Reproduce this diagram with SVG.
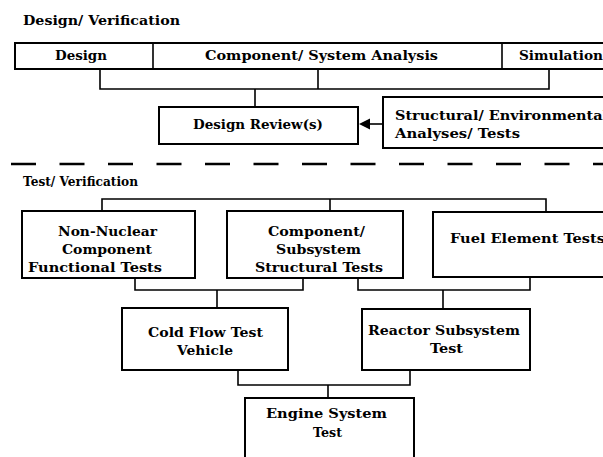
<svg xmlns="http://www.w3.org/2000/svg" width="603" height="457" viewBox="0 0 603 457">
<style>
.box{fill:#fff;stroke:#000;stroke-width:2}
.ln{fill:none;stroke:#000;stroke-width:1.6}
.t{font-family:"DejaVu Serif","Liberation Serif",serif;font-weight:bold;font-size:13px;fill:#000}
.h{font-family:"DejaVu Serif","Liberation Serif",serif;font-weight:bold;font-size:12px;fill:#000}
</style>
<rect width="603" height="457" fill="#fff"/>
<text class="h" x="23" y="25" textLength="157" lengthAdjust="spacingAndGlyphs">Design/ Verification</text>
<text class="h" x="23" y="186" textLength="115" lengthAdjust="spacingAndGlyphs">Test/ Verification</text>
<g id="connectors">
<path class="ln" d="M100,69 V89 H549 V69 M318,69 V89 M255,89 V107"/>
<path class="ln" d="M383,124 H369"/>
<polygon points="359,124 370,118.5 370,129.5" fill="#000"/>
<path d="M11,164 H603" stroke="#000" stroke-width="2.5" stroke-dasharray="25 23.5" fill="none"/>
<path class="ln" d="M102,211 V199 H546 V212 M330,199 V211"/>
<path class="ln" d="M135,278 V290 H303 V278 M217,290 V308"/>
<path class="ln" d="M358,278 V290 H530 V277 M443,290 V309"/>
<path class="ln" d="M238,370 V385 H410 V370 M328,385 V398"/>
</g>
<g id="top-row">
<rect class="box" x="15" y="43" width="600" height="26"/>
<path class="ln" stroke-width="2" d="M153,43 V69 M502,43 V69"/>
</g>
<g id="design"><text class="t" x="55" y="60" textLength="52" lengthAdjust="spacingAndGlyphs">Design</text></g>
<g id="analysis"><text class="t" x="205" y="60" textLength="233" lengthAdjust="spacingAndGlyphs">Component/ System Analysis</text></g>
<g id="simulation"><text class="t" x="519" y="60" textLength="84" lengthAdjust="spacingAndGlyphs">Simulation</text></g>
<g id="design-review">
<rect class="box" x="159" y="107" width="199" height="37"/>
<text class="t" x="193" y="129" textLength="130" lengthAdjust="spacingAndGlyphs">Design Review(s)</text>
</g>
<g id="structural-analyses">
<rect class="box" x="383" y="97" width="230" height="51"/>
<text class="t" x="395" y="120" textLength="213" lengthAdjust="spacingAndGlyphs">Structural/ Environmental</text>
<text class="t" x="395" y="138" textLength="125" lengthAdjust="spacingAndGlyphs">Analyses/ Tests</text>
</g>
<g id="non-nuclear">
<rect class="box" x="22" y="211" width="173" height="67"/>
<text class="t" x="58" y="236" textLength="99" lengthAdjust="spacingAndGlyphs">Non-Nuclear</text>
<text class="t" x="62" y="254" textLength="90" lengthAdjust="spacingAndGlyphs">Component</text>
<text class="t" x="28" y="272" textLength="134" lengthAdjust="spacingAndGlyphs">Functional Tests</text>
</g>
<g id="component-subsystem">
<rect class="box" x="227" y="211" width="176" height="67"/>
<text class="t" x="268" y="236" textLength="97" lengthAdjust="spacingAndGlyphs">Component/</text>
<text class="t" x="276" y="254" textLength="85" lengthAdjust="spacingAndGlyphs">Subsystem</text>
<text class="t" x="255" y="272" textLength="128" lengthAdjust="spacingAndGlyphs">Structural Tests</text>
</g>
<g id="fuel-element">
<rect class="box" x="433" y="212" width="180" height="65"/>
<text class="t" x="450" y="243" textLength="155" lengthAdjust="spacingAndGlyphs">Fuel Element Tests</text>
</g>
<g id="cold-flow">
<rect class="box" x="122" y="308" width="166" height="62"/>
<text class="t" x="148" y="337" textLength="115" lengthAdjust="spacingAndGlyphs">Cold Flow Test</text>
<text class="t" x="177" y="355" textLength="56" lengthAdjust="spacingAndGlyphs">Vehicle</text>
</g>
<g id="reactor">
<rect class="box" x="362" y="309" width="168" height="61"/>
<text class="t" x="368" y="335" textLength="152" lengthAdjust="spacingAndGlyphs">Reactor Subsystem</text>
<text class="t" x="430" y="353" textLength="33" lengthAdjust="spacingAndGlyphs">Test</text>
</g>
<g id="engine">
<rect class="box" x="245" y="398" width="169" height="70"/>
<text class="t" x="266" y="418" textLength="121" lengthAdjust="spacingAndGlyphs">Engine System</text>
<text class="t" x="313" y="437" textLength="29" lengthAdjust="spacingAndGlyphs">Test</text>
</g>
</svg>
